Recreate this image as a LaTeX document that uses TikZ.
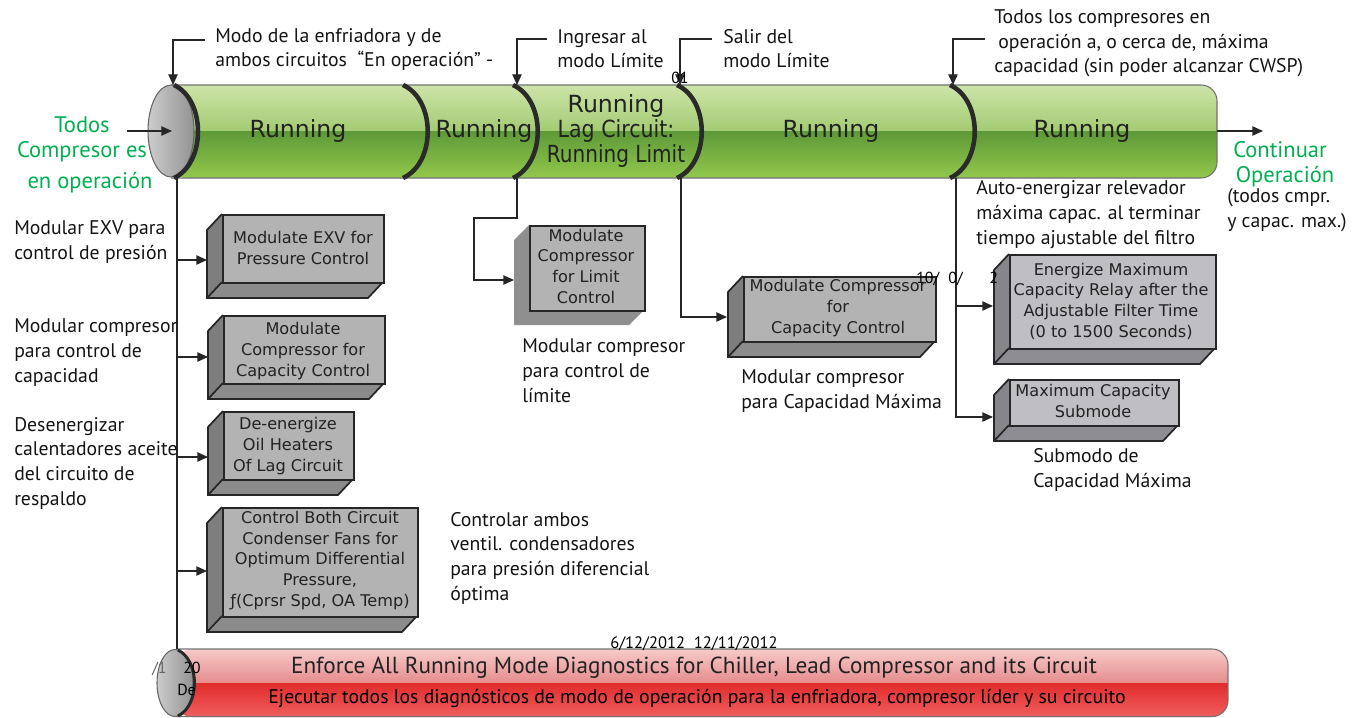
\documentclass[tikz,border=0pt]{standalone}
\usepackage{fontspec}
\setmainfont{PT Sans}
\newfontfamily\dv{DejaVu Sans}
\usetikzlibrary{arrows.meta}
\definecolor{ggreen}{RGB}{0,176,80}
\definecolor{gt1}{HTML}{CDE4A8}
\definecolor{gt2}{HTML}{A3CB72}
\definecolor{gb1}{HTML}{5E9A38}
\definecolor{gb2}{HTML}{92C84C}
\definecolor{rt1}{HTML}{F8CACA}
\definecolor{rt2}{HTML}{E58C8C}
\definecolor{rb1}{HTML}{E12C2C}
\definecolor{rb2}{HTML}{F15E5E}
\definecolor{rimc}{HTML}{2A2A2A}
\definecolor{frontc}{HTML}{B3B3B3}
\definecolor{sidec}{HTML}{7E7E7E}
\definecolor{botc}{HTML}{8B8B8B}
\definecolor{frontb}{HTML}{BFBFC3}
\definecolor{sideb}{HTML}{85858A}
\definecolor{botb}{HTML}{8E8E92}
\definecolor{shadc}{HTML}{8F8F8F}
\definecolor{txt}{HTML}{222222}
\newcommand\cubebox[8]{% name, x1, y1, x2, y2, front, side, bottom
  \fill[#7] (#2,#3) -- (#2-15,#3+16) -- (#2-15,#5+16) -- (#2,#5) -- cycle;
  \fill[#8] (#2-15,#5+16) -- (#4-15,#5+16) -- (#4,#5) -- (#2,#5) -- cycle;
  \draw[boxline] (#2,#3) -- (#2-15,#3+16) -- (#2-15,#5+16) -- (#4-15,#5+16) -- (#4,#5);
  \draw[boxline] (#2-15,#5+16) -- (#2,#5);
  \node[boxline, fill=#6, anchor=north west, inner sep=0pt,
        minimum width={(#4-#2)*0.75pt}, minimum height={(#5-#3)*0.75pt}] (#1) at (#2,#3) {};
}
\begin{document}
\begin{tikzpicture}[x=0.75pt,y=-0.75pt,
  lbl/.style={font=\fontsize{14.8}{18.4}\selectfont, align=left, anchor=base west, inner sep=0pt, text=black!92},
  grn/.style={font=\fontsize{16.9}{19}\selectfont, text=ggreen, anchor=base, inner sep=0pt},
  run/.style={font=\dv\fontsize{17.7}{18.75}\selectfont, text=txt, align=center, anchor=base, inner sep=0pt},
  btxt/.style={font=\dv\fontsize{12.1}{15.4}\selectfont, text=txt, align=center, anchor=base, inner sep=0pt},
  art/.style={font=\fontsize{12}{14}\selectfont, text=black, anchor=base west, inner sep=0pt},
  conn/.style={line width=1pt, draw=black!85},
  arr/.style={conn, -{Triangle[length=8pt,width=7pt]}},
  divider/.style={line width=3.4pt, draw=rimc},
  boxline/.style={draw=black!85, line width=1.3pt, line join=miter},
  cyloutline/.style={draw=black!55, line width=0.8pt}]
\useasboundingbox (0,0) rectangle (1359,717);

% ---------------- green cylinder ----------------
\begin{scope}
  \clip[rounded corners=12pt] (171,85) rectangle (1217,178);
  \shade[top color=gt1, bottom color=gt2] (171,85) rectangle (1217,131.5);
  \shade[top color=gb1, bottom color=gb2] (171,131.5) rectangle (1217,178);
\end{scope}
\draw[cyloutline, rounded corners=12pt] (171,85) -- (1217,85) -- (1217,178) -- (171,178);
\shade[left color=gray!40, right color=gray!85, draw=black!60, line width=0.8pt] (171,131) ellipse [x radius=23, y radius=46];
\draw[divider] (174,85) .. controls (206,100) and (206,163) .. (174,178);
\foreach \xx in {403,513,677,950}{
  \draw[divider] (\xx,85) .. controls (\xx+33,100) and (\xx+33,163) .. (\xx,178);
}
\node[run] (r1) at (298,137) {Running};
\node[run] (r2) at (484,137) {Running};
\node[run] (r3) at (616,162) {Running\\\scalebox{0.87}[1]{Lag Circuit:}\\\scalebox{0.85}[1]{Running Limit}};
\node[run] (r4) at (831,137) {Running};
\node[run] (r5) at (1082,137) {Running};

% ---------------- red bar ----------------
\begin{scope}
  \clip[rounded corners=12pt] (176,649) rectangle (1228,717);
  \shade[top color=rt1, bottom color=rt2] (176,649) rectangle (1228,683);
  \shade[top color=rb1, bottom color=rb2] (176,683) rectangle (1228,717);
\end{scope}
\draw[cyloutline, rounded corners=12pt] (176,649) -- (1228,649) -- (1228,716.5) -- (176,716.5);
\shade[left color=gray!40, right color=gray!85, draw=black!60, line width=0.8pt] (175,683) ellipse [x radius=18, y radius=33.5];
\draw[line width=2.2pt, draw=rimc] (178,650) .. controls (200,661) and (200,705) .. (178,716);
\node[font=\fontsize{17.4}{19}\selectfont, text=txt, anchor=base, inner sep=0pt] (enf) at (694,673) {Enforce All Running Mode Diagnostics for Chiller, Lead Compressor and its Circuit};
\node[font=\fontsize{14.8}{16}\selectfont, text=black, anchor=base, inner sep=0pt] (eje) at (697,703) {Ejecutar todos los diagnósticos de modo de operación para la enfriadora, compresor líder y su circuito};

% ---------------- coordinates ----------------
\coordinate (c0a) at (205,40);  \coordinate (c0b) at (173,40);  \coordinate (c0c) at (173,85);
\coordinate (c1a) at (547,39);  \coordinate (c1b) at (517,39);  \coordinate (c1c) at (517,85);
\coordinate (c2a) at (712,39);  \coordinate (c2b) at (680,39);  \coordinate (c2c) at (680,85);
\coordinate (c3a) at (985,39);  \coordinate (c3b) at (953,39);  \coordinate (c3c) at (953,85);
\coordinate (inl) at (127,131); \coordinate (capc) at (172,131);
\coordinate (outa) at (1217,131); \coordinate (outb) at (1263,131);
\coordinate (sp0) at (177,178); \coordinate (sp1) at (177,649);

% ---------------- boxes ----------------
\cubebox{b1}{222}{214}{383}{282}{frontc}{sidec}{botc}
\cubebox{b2}{223}{315}{384}{383}{frontc}{sidec}{botc}
\cubebox{b3}{223}{411}{353}{479}{frontc}{sidec}{botc}
\cubebox{b4}{222}{507}{417}{616}{frontc}{sidec}{botc}
\cubebox{bmax}{743}{276}{935}{341}{frontc}{sidec}{botc}
\cubebox{ben}{1009}{254}{1215}{348}{frontb}{sideb}{botb}
\cubebox{bsub}{1009}{379}{1178}{425}{frontb}{sideb}{botb}
% limit box with flat shadow
\fill[shadc] (529,225) -- (514,240) -- (514,325) -- (629,325) -- (644,310) -- (529,310) -- cycle;
\node[boxline, fill=frontc, anchor=north west, inner sep=0pt, minimum width={115*0.75pt}, minimum height={85*0.75pt}] (blim) at (529,225) {};

\node[btxt] (t1) at (303,264) {Modulate EXV for\\Pressure Control};
\node[btxt] (t2) at (303,376) {Modulate\\Compressor for\\Capacity Control};
\node[btxt] (t3) at (288,471) {De-energize\\Oil Heaters\\Of Lag Circuit};
\node[btxt] (t4) at (320,606) {Control Both Circuit\\Condenser Fans for\\Optimum Differential\\Pressure,\\ƒ(Cprsr Spd, OA Temp)};
\node[btxt] (tlim) at (586,303) {Modulate\\Compressor\\for Limit\\Control};
\node[btxt] (tmax) at (838,333) {Modulate Compressor\\for\\Capacity Control};
\node[btxt] (ten) at (1111,337) {Energize Maximum\\Capacity Relay after the\\Adjustable Filter Time\\(0 to 1500 Seconds)};
\node[btxt] (tsub) at (1093,417) {Maximum Capacity\\Submode};

% ---------------- connectors ----------------
\draw[arr] (c0a) -- (c0b) -- (c0c);
\draw[arr] (c1a) -- (c1b) -- (c1c);
\draw[arr] (c2a) -- (c2b) -- (c2c);
\draw[arr] (c3a) -- (c3b) -- (c3c);
\draw[arr] (inl) -- (capc);
\draw[arr] (outa) -- (outb);
\draw[conn] (sp0) -- (sp1);
\coordinate (s1) at (177,260); \coordinate (e1) at (207,260);
\coordinate (s2) at (177,357); \coordinate (e2) at (208,357);
\coordinate (s3) at (177,457); \coordinate (e3) at (208,457);
\coordinate (s4) at (177,571); \coordinate (e4) at (207,571);
\draw[arr] (s1) -- (e1);
\draw[arr] (s2) -- (e2);
\draw[arr] (s3) -- (e3);
\draw[arr] (s4) -- (e4);
\coordinate (l0) at (517,178); \coordinate (l1) at (517,218); \coordinate (l2) at (474,218);
\coordinate (l3) at (474,280); \coordinate (l4) at (514,280);
\draw[arr] (l0) -- (l1) -- (l2) -- (l3) -- (l4);
\coordinate (m0) at (681,178); \coordinate (m1) at (681,317); \coordinate (m2) at (727,317);
\draw[arr] (m0) -- (m1) -- (m2);
\coordinate (n0) at (956,178); \coordinate (n1) at (956,417); \coordinate (n2) at (993,417);
\coordinate (n3) at (956,306); \coordinate (n4) at (993,306);
\draw[arr] (n0) -- (n1) -- (n2);
\draw[arr] (n3) -- (n4);

% ---------------- labels (base = last line) ----------------
\node[lbl] (lmodo) at (215,67) {Modo de la enfriadora y de\\ambos circuitos\ \ “En operación” -};
\node[lbl] (ling) at (557,68) {Ingresar al\\modo Límite};
\node[lbl] (lsal) at (723,68) {Salir del\\modo Límite};
\node[lbl] (ltodos) at (994,73) {Todos los compresores en\\\hspace*{3pt}operación a, o cerca de, máxima\\capacidad (sin poder alcanzar CWSP)};
\node[lbl] (lexv) at (14,259) {Modular EXV para\\control de presión};
\node[lbl] (lcomp) at (14,382) {Modular compresor\\para control de\\capacidad};
\node[lbl] (ldes) at (14,505) {Desenergizar\\calentadores aceite\\del circuito de\\respaldo};
\node[lbl] (llim) at (522,402) {Modular compresor\\para control de\\límite};
\node[lbl] (lmax) at (741,408) {Modular compresor\\para Capacidad Máxima};
\node[lbl] (lauto) at (976,244) {Auto-energizar relevador\\máxima capac. al terminar\\tiempo ajustable del filtro};
\node[lbl] (lsub) at (1033,487) {Submodo de\\Capacidad Máxima};
\node[lbl] (lctrl) at (450,600) {Controlar ambos\\ventil. condensadores\\para presión diferencial\\óptima};
\node[lbl] (lcmpr) at (1227,227) {(todos cmpr.\\y capac. max.)};

\node[grn] (g1) at (82,132) {Todos};
\node[grn] (g2) at (82,157) {Compresor es};
\node[grn] (g3) at (90,188) {en operación};
\node[grn] (g4) at (1280,157) {Continuar};
\node[grn] (g5) at (1285,182) {Operación};

% ---------------- stray printed marks ----------------
\node[art] (a01) at (671,84) {01};
\node[art] (a10) at (916,283) {10/};
\node[art] (a0) at (948,283) {0/};
\node[art] (a2) at (989,283) {2};
\node[art] (a20) at (183,673) {20};
\node[art, text=black!60] (a1s) at (152,673) {/1};
\node[art] (ade) at (177,695) {De};
\node[art, font=\fontsize{12.4}{14}\selectfont] (adates) at (610,648) {6/12/2012\ \ 12/11/2012};
\end{tikzpicture}
\end{document}
